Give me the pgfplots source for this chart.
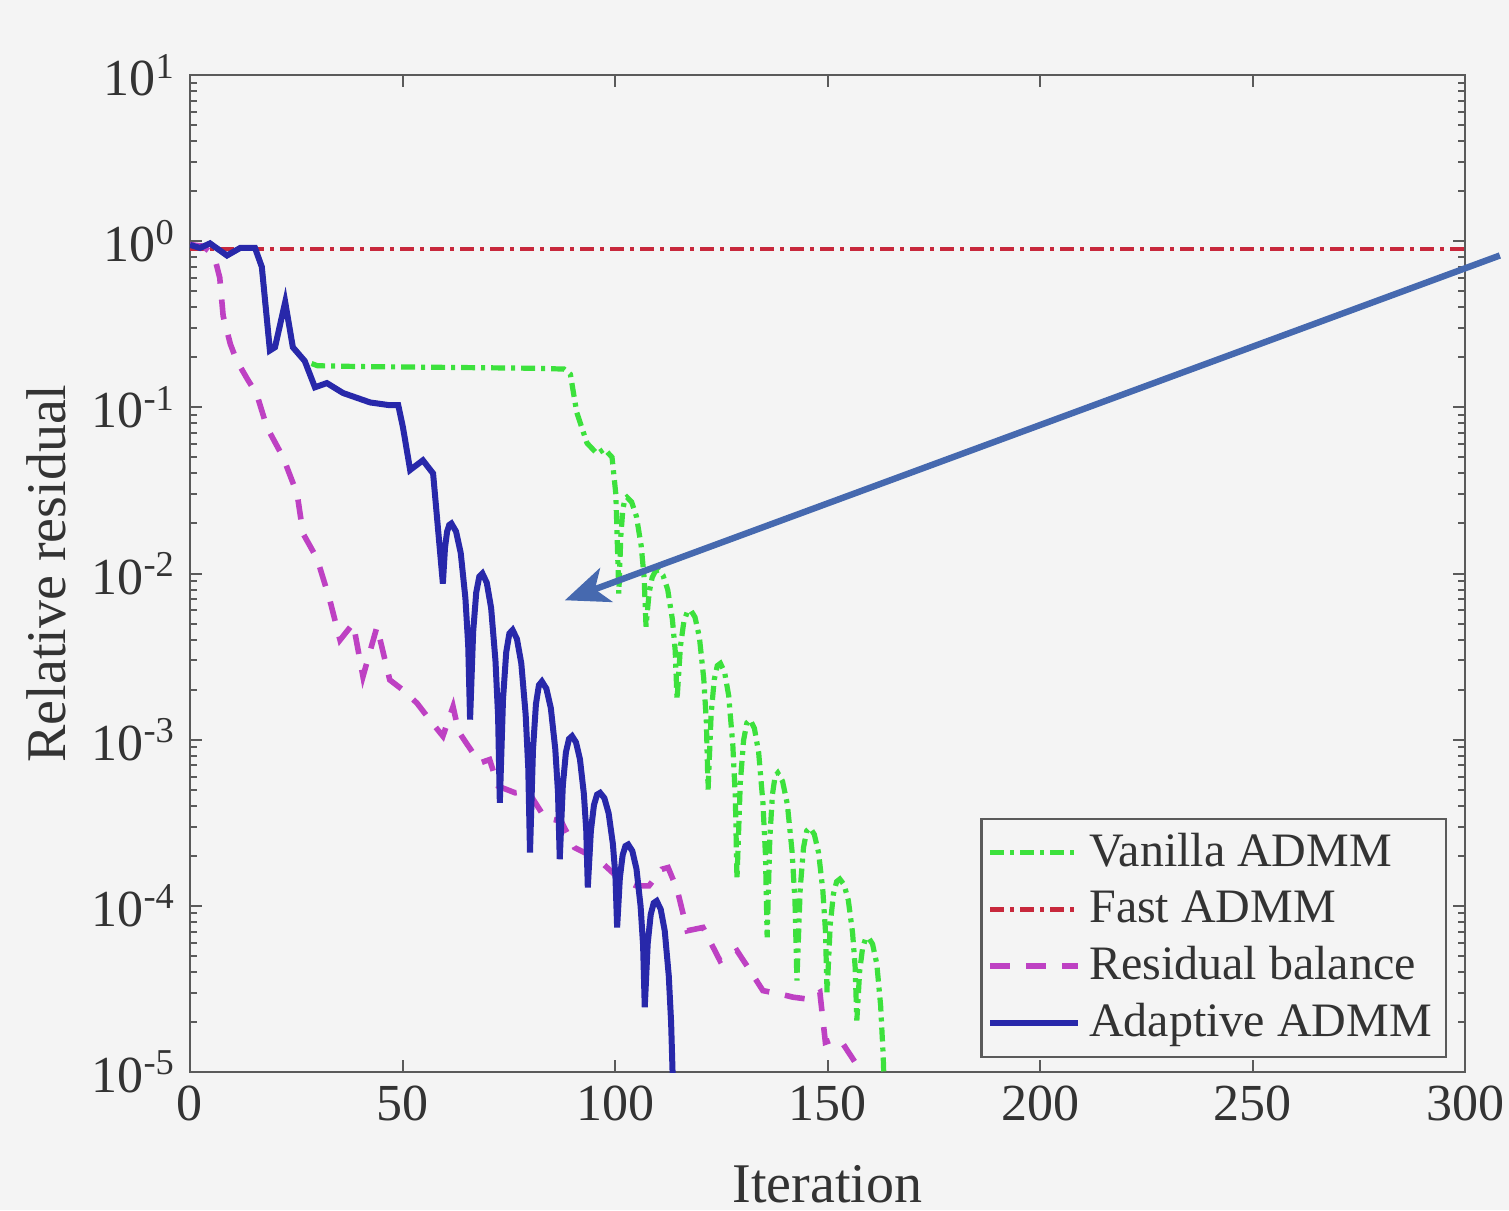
\documentclass[border=0pt]{standalone}
\usepackage{fontspec}
\setmainfont{Liberation Serif}
\usepackage{pgfplots}
\pgfplotsset{compat=1.18}
\usetikzlibrary{arrows.meta,backgrounds}

\definecolor{bg}{RGB}{244,244,244}
\definecolor{vgreen}{RGB}{60,225,60}
\definecolor{fred}{RGB}{200,40,60}
\definecolor{rmag}{RGB}{190,65,195}
\definecolor{ablue}{RGB}{40,40,170}
\definecolor{arrowblue}{RGB}{70,105,175}
\definecolor{frame}{RGB}{90,90,90}

\begin{document}
\begin{tikzpicture}
\begin{axis}[
    scale only axis,
    width=318.75pt, height=249.25pt,
    xmin=0, xmax=300,
    ymode=log, ymin=1e-5, ymax=10,
    axis background/.style={fill=bg},
    axis line style={frame, line width=0.7pt},
    tick style={frame, line width=0.5pt},
    tick align=inside, tick pos=both,
    major tick length=3pt, minor tick length=1.7pt,
    xtick={0,50,...,300},
    ytick={1e-5,1e-4,1e-3,1e-2,1e-1,1,10},
    yticklabels={10\textsuperscript{-5},10\textsuperscript{-4},10\textsuperscript{-3},10\textsuperscript{-2},10\textsuperscript{-1},10\textsuperscript{0},10\textsuperscript{1}},
    minor ytick={2e-5,3e-5,4e-5,5e-5,6e-5,7e-5,8e-5,9e-5,
                 2e-4,3e-4,4e-4,5e-4,6e-4,7e-4,8e-4,9e-4,
                 2e-3,3e-3,4e-3,5e-3,6e-3,7e-3,8e-3,9e-3,
                 2e-2,3e-2,4e-2,5e-2,6e-2,7e-2,8e-2,9e-2,
                 0.2,0.3,0.4,0.5,0.6,0.7,0.8,0.9,
                 2,3,4,5,6,7,8,9},
    /pgf/number format/assume math mode=true,
    ticklabel style={font=\fontsize{13}{15}\selectfont, text=black!80},
    xlabel={Iteration},
    ylabel={Relative residual},
    label style={font=\fontsize{14}{16}\selectfont, text=black!80},
    xlabel style={at={(rel axis cs:0.5,0)}, anchor=center, yshift=-28pt},
    ylabel style={at={(rel axis cs:0,0.5)}, anchor=center, yshift=36pt},
    legend style={at={(rel axis cs:0.986,0.014)}, anchor=south east,
        draw=frame, fill=bg, line width=0.6pt,
        font=\fontsize{12}{14}\selectfont, text=black!80,
        inner sep=1.5pt, row sep=0.5pt},
    legend cell align=left,
    legend image code/.code={\draw[#1] (0pt,0pt) -- (22pt,0pt);},
]

% Vanilla ADMM
\addplot[vgreen, line width=1.3pt, dash pattern=on 3.5pt off 1.5pt on 1pt off 1.5pt] coordinates {
(0,0.95) (2.35,0.91) (4.7,0.97) (8.7,0.82) (11.8,0.91) (15.3,0.91) (16.9,0.70)
(18.8,0.22) (20,0.23) (22.4,0.43) (24.2,0.23) (27,0.19) (30,0.178) (40,0.176)
(60,0.174) (80,0.172) (88,0.170) (89.5,0.158) (91,0.0933) (93.4,0.0610)
(95.8,0.0525) (97.5,0.0562) (99.3,0.0501) (100.2,0.030) (100.9,0.00759)
(101.375,0.0169) (101.85,0.0243) (102.325,0.0281) (102.8,0.0288)
(103.925,0.0269) (105.05,0.0220) (106.175,0.0146) (106.85,0.00946) (107.3,0.00479)
(108.025,0.00766) (108.75,0.00946) (109.475,0.0103) (110.2,0.0105)
(111.3,0.00975) (112.4,0.0080) (113.5,0.0053) (114.16,0.00344) (114.6,0.00174)
(115.4,0.00366) (116.2,0.00513) (117.0,0.00587) (117.8,0.00603)
(118.825,0.00546) (119.85,0.00415) (120.875,0.00234) (121.49,0.00129) (121.9,5.01e-4)
(122.625,0.00143) (123.35,0.0023) (124.075,0.00279) (124.8,0.00288)
(125.775,0.00256) (126.75,0.00184) (127.725,9.25e-4) (128.31,4.51e-4) (128.7,1.45e-4)
(129.475,5.45e-4) (130.25,9.89e-4) (131.025,0.00126) (131.8,0.00132)
(132.8,0.00117) (133.8,8.38e-4) (134.8,4.19e-4) (135.4,2.03e-4) (135.8,6.46e-5)
(136.425,2.54e-4) (137.05,4.69e-4) (137.675,6.03e-4) (138.3,6.31e-4)
(139.425,5.62e-4) (140.55,4.09e-4) (141.675,2.11e-4) (142.35,1.06e-4) (142.8,3.55e-5)
(143.575,1.26e-4) (144.35,2.24e-4) (145.125,2.83e-4) (145.9,2.95e-4)
(146.9,2.69e-4) (147.9,2.09e-4) (148.9,1.24e-4) (149.5,7.18e-5) (149.9,3.02e-5)
(150.65,7.73e-5) (151.4,1.18e-4) (152.15,1.40e-4) (152.9,1.45e-4)
(153.9,1.34e-4) (154.9,1.08e-4) (155.9,6.87e-5) (156.5,4.30e-5) (156.9,2.04e-5)
(157.575,4.07e-5) (158.25,5.56e-5) (158.925,6.31e-5) (159.6,6.46e-5)
(160.6,5.89e-5) (161.6,4.47e-5) (162.5,2.51e-5) (163.1,1.26e-5) (163.6,5.0e-6)
};
\addlegendentry{Vanilla ADMM}

% Fast ADMM
\addplot[fred, line width=1.1pt, dash pattern=on 3.5pt off 1.5pt on 1pt off 1.5pt] coordinates {
(0,0.9) (300,0.9)
};
\addlegendentry{Fast ADMM}

% Residual balance
\addplot[rmag, line width=1.4pt, dash pattern=on 5pt off 4pt] coordinates {
(0,0.955) (3,0.933) (5,0.851) (6,0.759) (7,0.603) (7.8,0.355) (9.5,0.240)
(11,0.191) (13.5,0.148) (15.7,0.120) (18.1,0.0759) (21.9,0.0501) (25.2,0.0302)
(26.6,0.0174) (29.9,0.0123) (32.9,0.00692) (35.3,0.00398) (38.4,0.00501)
(40.7,0.00240) (44,0.00479) (47,0.00229) (50,0.00200) (53.4,0.00166)
(57,0.00126) (59.5,0.00105) (61.9,0.00158) (63.2,0.00112) (65,9.55e-4)
(68.2,7.24e-4) (70.5,7.59e-4) (72.5,5.25e-4) (76.5,4.79e-4) (79.5,4.90e-4)
(83.5,3.39e-4) (87.3,3.24e-4) (90.5,2.24e-4) (96,1.91e-4) (100.7,1.48e-4)
(105,1.32e-4) (108,1.32e-4) (111,1.66e-4) (112.5,1.70e-4) (114.6,1.26e-4)
(117,7.08e-5) (120.7,7.41e-5) (124.7,4.68e-5) (128.7,5.37e-5) (131.8,4.07e-5)
(134.8,3.09e-5) (138.8,2.95e-5) (141.9,2.82e-5) (145.2,2.75e-5) (148.2,3.02e-5)
(149.5,1.51e-5) (151.6,1.58e-5) (153.4,1.51e-5) (158,1.0e-5) (161,6.3e-6)
};
\addlegendentry{Residual balance}

% Adaptive ADMM
\addplot[ablue, line width=1.5pt] coordinates {
(0,0.95) (2.35,0.91) (4.7,0.97) (8.7,0.82) (11.8,0.91) (15.3,0.91) (16.9,0.70)
(18.8,0.22) (20,0.23) (22.4,0.43) (24.2,0.23) (27,0.19) (29.4,0.132) (32.2,0.14)
(36,0.122) (42.4,0.107) (47,0.103) (49,0.103) (50.1,0.076) (51.8,0.042)
(54.8,0.048) (57.2,0.040) (59.5,0.0087)
(60.0,0.0143) (60.5,0.0179) (61.0,0.0196) (61.5,0.0200)
(62.6,0.0179) (63.7,0.0133) (64.8,0.00711) (65.46,0.0037) (65.9,0.00132)
(66.625,0.00445) (67.35,0.00769) (68.075,0.00959) (68.8,0.0100)
(69.825,0.00881) (70.85,0.00621) (71.875,0.00299) (72.49,0.00139) (72.9,4.17e-4)
(73.65,0.00175) (74.4,0.00335) (75.15,0.00436) (75.9,0.00457)
(76.925,0.00404) (77.95,0.00288) (78.975,0.00142) (79.59,6.75e-4) (80,2.09e-4)
(80.7,8.67e-4) (81.4,0.00164) (82.1,0.00213) (82.8,0.00224)
(83.85,0.00203) (84.9,0.00155) (85.95,8.77e-4) (86.58,4.86e-4) (87,1.91e-4)
(87.725,5.30e-4) (88.45,8.39e-4) (89.175,0.00101) (89.9,0.00105)
(90.825,9.64e-4) (91.75,7.64e-4) (92.675,4.72e-4) (93.23,2.86e-4) (93.6,1.29e-4)
(94.325,2.83e-4) (95.05,4.04e-4) (95.775,4.67e-4) (96.5,4.79e-4)
(97.5,4.45e-4) (98.5,3.61e-4) (99.5,2.36e-4) (100.1,1.51e-4) (100.5,7.41e-5)
(101.15,1.48e-4) (101.8,2.02e-4) (102.45,2.29e-4) (103.1,2.34e-4)
(104.075,2.14e-4) (105.05,1.67e-4) (106.025,9.95e-5) (106.61,5.78e-5) (107,2.45e-5)
(107.7,5.94e-5) (108.4,8.85e-5) (109.1,1.04e-4) (109.8,1.07e-4)
(110.75,9.55e-5) (111.7,7.08e-5) (112.65,3.80e-5) (113.2,2.0e-5) (113.6,8.9e-6)
(113.9,2.5e-6)
};
\addlegendentry{Adaptive ADMM}

\coordinate (bl) at (rel axis cs:0,0);
\coordinate (tr) at (rel axis cs:1,1);
\coordinate (arrS) at (axis cs:308.2,0.82);
\coordinate (arrE) at (axis cs:88.2,0.0069);
\end{axis}

% annotation arrow
\draw[arrowblue, line width=1.6pt, -{Stealth[length=11pt,width=9pt,inset=3pt]}] (arrS) -- (arrE);

\pgfresetboundingbox
\path[use as bounding box] ([xshift=-47.5pt,yshift=-34.5pt]bl) rectangle ([xshift=11pt,yshift=18.75pt]tr);
\begin{scope}[on background layer]
\fill[bg] ([xshift=-47.5pt,yshift=-34.5pt]bl) rectangle ([xshift=11pt,yshift=18.75pt]tr);
\end{scope}
\end{tikzpicture}
\end{document}
